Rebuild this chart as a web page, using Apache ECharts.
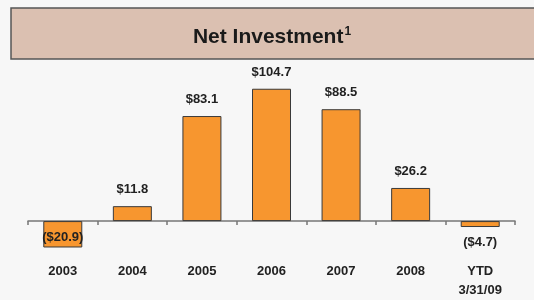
<!DOCTYPE html>
<html>
<head>
<meta charset="utf-8">
<script src="https://cdn.jsdelivr.net/npm/echarts@6/dist/echarts.min.js"></script>
<style>
html, body { margin: 0; padding: 0; background: #f7f7f7; }
#main { width: 534px; height: 300px; }
</style>
</head>
<body>
<div id="main"></div>
<script>
// 数据
var years = ['2003', '2004', '2005', '2006', '2007', '2008', 'YTD\n3/31/09'];
var netInvestment = [-20.9, 11.8, 83.1, 104.7, 88.5, 26.2, -4.7];

var chart = echarts.init(document.getElementById('main'));

function fmt(v) {
	return v < 0 ? '($' + Math.abs(v).toFixed(1) + ')' : '$' + v.toFixed(1);
}

var barData = netInvestment.map(function(v, i) {
	var item = { value: v };
	if (i === 0) {
		item.label = { position: 'inside', distance: 0, offset: [0, 3] };
	} else if (v < 0) {
		item.label = { position: 'bottom', distance: 9 };
	}
	return item;
});

var option = {
	backgroundColor: '#f7f7f7',
	animation: false,
	// 标题框
	graphic: [{
		type: 'rect',
		shape: { x: 11, y: 8, width: 540, height: 51 },
		style: { fill: '#dbc0b1', stroke: '#555', lineWidth: 1.5 },
		z: 0
	}],
	title: {
		text: '{a|Net Investment}{b|1}',
		left: 267,
		top: 21,
		textAlign: 'center',
		textStyle: {
			rich: {
				a: { fontFamily: 'Liberation Sans', fontWeight: 'bold', fontSize: 21, color: '#1a1a1a' },
				b: { fontFamily: 'Liberation Sans', fontWeight: 'bold', fontSize: 12, color: '#1a1a1a', verticalAlign: 'top', padding: [0, 0, 10, 1] }
			}
		},
		z: 5
	},
	grid: {
		left: 28,
		right: 19,
		top: 69.4,
		bottom: 38.6
	},
	xAxis: [{
		type: 'category',
		data: years,
		axisLine: { onZero: true, lineStyle: { color: '#777', width: 1.5 } },
		axisTick: { show: true, length: 4, lineStyle: { color: '#777', width: 1.5 } },
		axisLabel: { show: false }
	}, {
		type: 'category',
		data: years,
		position: 'bottom',
		axisLine: { show: false, onZero: false },
		axisTick: { show: false },
		axisLabel: {
			margin: 3,
			fontFamily: 'Liberation Sans',
			fontWeight: 'bold',
			fontSize: 13,
			color: '#222',
			lineHeight: 19
		}
	}],
	yAxis: {
		type: 'value',
		min: -30,
		max: 120,
		show: false,
		splitLine: { show: false }
	},
	series: [{
		type: 'bar',
		data: barData,
		barWidth: 39,
		itemStyle: { color: '#f7962f', borderColor: '#3a3a3a', borderWidth: 1 },
		label: {
			show: true,
			position: 'top',
			distance: 10,
			fontFamily: 'Liberation Sans',
			fontWeight: 'bold',
			fontSize: 13,
			color: '#222',
			formatter: function(p) { return fmt(p.value); }
		}
	}]
};

chart.setOption(option);
</script>
</body>
</html>
